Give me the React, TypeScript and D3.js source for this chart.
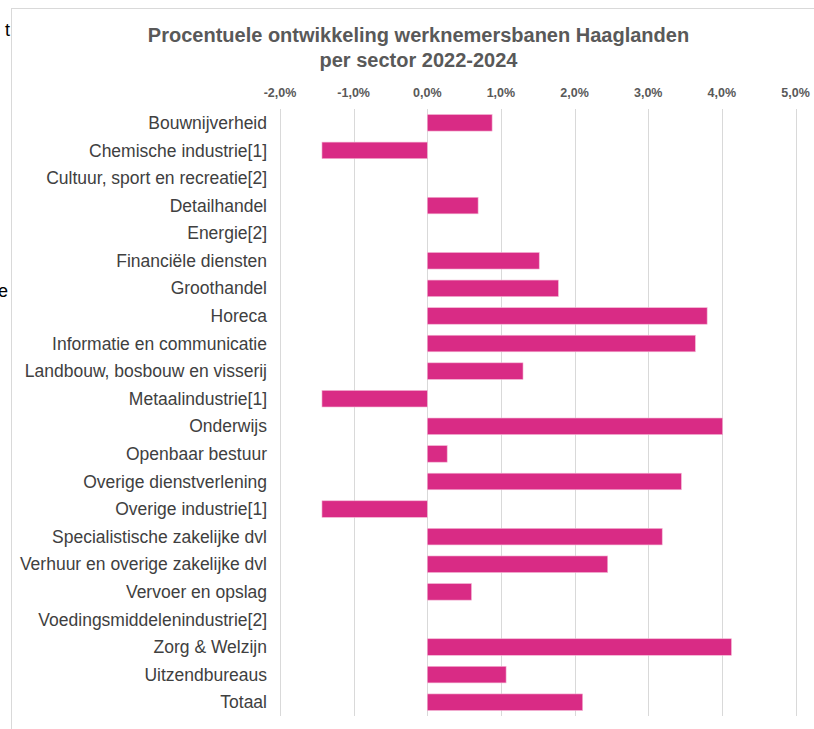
import React from "react";
import * as d3 from "d3";

const categories = [
  "Bouwnijverheid",
  "Chemische industrie[1]",
  "Cultuur, sport en recreatie[2]",
  "Detailhandel",
  "Energie[2]",
  "Financiële diensten",
  "Groothandel",
  "Horeca",
  "Informatie en communicatie",
  "Landbouw, bosbouw en visserij",
  "Metaalindustrie[1]",
  "Onderwijs",
  "Openbaar bestuur",
  "Overige dienstverlening",
  "Overige industrie[1]",
  "Specialistische zakelijke dvl",
  "Verhuur en overige zakelijke dvl",
  "Vervoer en opslag",
  "Voedingsmiddelenindustrie[2]",
  "Zorg & Welzijn",
  "Uitzendbureaus",
  "Totaal",
];

const values: (number | null)[] = [
  0.88, -1.43, null, 0.69, null, 1.52, 1.78, 3.8, 3.64, 1.3, -1.43, 4.01, 0.27,
  3.45, -1.43, 3.19, 2.45, 0.6, null, 4.13, 1.07, 2.11,
];

const ticks = [-2, -1, 0, 1, 2, 3, 4, 5];

const titleLines = [
  "Procentuele ontwikkeling werknemersbanen Haaglanden",
  "per sector 2022-2024",
];

export default function App() {
  const W = 814;
  const H = 729;
  const x = d3.scaleLinear().domain([-2, 5]).range([280, 795.5]);
  const y = d3
    .scaleBand<string>()
    .domain(categories)
    .range([109, 716])
    .paddingInner(0.4)
    .paddingOuter(0.2);
  const fmt = (v: number) => v.toFixed(1).replace(".", ",") + "%";
  const font = "'Liberation Sans', Arial, sans-serif";

  return (
    <svg
      width={W}
      height={H}
      style={{ position: "absolute", left: 0, top: 0, background: "#fff" }}
      fontFamily={font}
    >
      <rect x={0} y={0} width={W} height={H} fill="#fff" />
      {/* fragments of outside text */}
      <text x={10} y={36} textAnchor="end" fontSize={18} fill="#000">t</text>
      <text x={8} y={297} textAnchor="end" fontSize={18} fill="#000">e</text>
      {/* chart frame */}
      <line x1={11.5} y1={8} x2={11.5} y2={H} stroke="#d9d9d9" strokeWidth={1} />
      <line x1={11} y1={8.5} x2={W} y2={8.5} stroke="#d9d9d9" strokeWidth={1} />
      {/* title */}
      {titleLines.map((t, i) => (
        <text
          key={i}
          x={418.5}
          y={42 + i * 25}
          textAnchor="middle"
          fontSize={20}
          fontWeight="bold"
          fill="#595959"
        >
          {t}
        </text>
      ))}
      {/* gridlines & tick labels */}
      {ticks.map((t) => (
        <g key={t}>
          <line
            x1={Math.round(x(t)) + 0.5}
            x2={Math.round(x(t)) + 0.5}
            y1={109}
            y2={716}
            stroke="#d9d9d9"
            strokeWidth={1}
          />
          <text
            x={x(t)}
            y={97}
            textAnchor="middle"
            fontSize={12.5}
            fontWeight="bold"
            fill="#595959"
          >
            {fmt(t)}
          </text>
        </g>
      ))}
      {/* bars */}
      {categories.map((c, i) => {
        const v = values[i];
        if (v === null) return null;
        const x0 = x(Math.min(0, v));
        const x1 = x(Math.max(0, v));
        return (
          <rect
            key={c}
            x={x0}
            y={y(c)}
            width={x1 - x0}
            height={y.bandwidth()}
            fill="#d92b85"
            stroke="#f3b6d4"
            strokeWidth={0.6}
          />
        );
      })}
      {/* category labels */}
      {categories.map((c) => (
        <text
          key={c}
          x={267}
          y={(y(c) ?? 0) + y.bandwidth() / 2}
          dy="0.35em"
          textAnchor="end"
          fontSize={17.5}
          fill="#404040"
        >
          {c}
        </text>
      ))}
    </svg>
  );
}
